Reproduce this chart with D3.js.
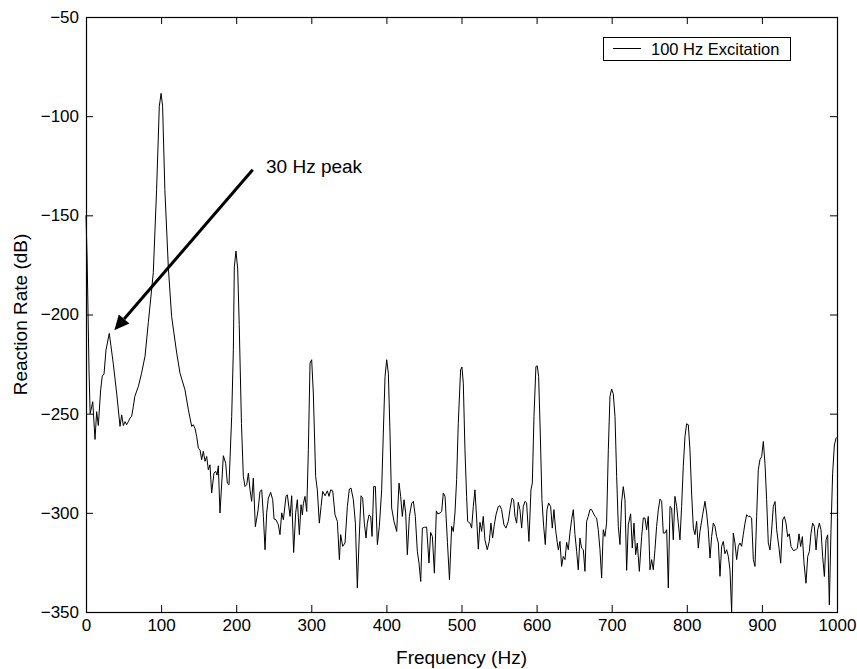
<!DOCTYPE html>
<html lang="en">
<head>
    <meta charset="UTF-8" />
    <title>Reaction Rate Spectrum - 100 Hz Excitation</title>

    <!-- D3.js library -->
    <script src="https://d3js.org/d3.v7.min.js"></script>

    <style>
        body {
            margin: 0;
            background-color: #fff;
            font-family: 'Liberation Sans', Arial, sans-serif;
        }

        .axis text {
            font-family: 'Liberation Sans', Arial, sans-serif;
            font-size: 17px;
            fill: #000;
        }

        .axis line {
            stroke: #000;
        }

        .axis-label {
            font-size: 19px;
            fill: #000;
        }

        .trace {
            fill: none;
            stroke: #000;
            stroke-width: 1px;
        }
    </style>
</head>

<body>
    <svg id="spectrum"></svg>

    <script>
        // Spectrum vertices (frequency in Hz, level in dB)
        const freqHz = [
            0, 1.5, 4, 5.5, 9, 12, 14.2, 16.4, 19.5, 21.7,
            24, 26.6, 31, 36.4, 40.8, 45.3, 47.5, 49.7, 52, 54,
            56.4, 58.6, 60.8, 63, 65, 69.7, 74, 78.6, 83, 89.6,
            94, 97.6, 100, 102, 105, 109.6, 114, 120.8, 125.2, 131.8,
            136.3, 140.7, 142.9, 145, 147.4, 149.6, 151.8, 154, 156.2, 158.5,
            160.7, 162.9, 165.1, 167.3, 170.4, 172.7, 174.5, 176.2, 178.4, 182.9,
            186, 188.2, 190.4, 194, 196.2, 197.5, 199.7, 202, 204, 207,
            209.5, 211.7, 214, 216.2, 218.4, 220.6, 222.8, 225.5, 229, 231.7,
            234, 236.2, 238.4, 240.6, 242.8, 245.9, 248.6, 250.4, 253, 256.1,
            258.3, 260.6, 262.8, 266.3, 268.1, 271.7, 273.9, 276.5, 279.2, 281.4,
            284.1, 286.3, 288.1, 289.4, 291.6, 293.9, 296.1, 298.3, 300.5, 302.7,
            305.8, 308, 310.7, 313, 315.2, 318.3, 321.4, 323.6, 325.8, 328.5,
            331.6, 334.7, 337.4, 339.1, 341.8, 344.9, 348, 350.7, 352.9, 356,
            358.7, 361.3, 363.5, 366.2, 368.4, 370.6, 372.9, 374.6, 376.9, 379.1,
            380.9, 383.1, 385.3, 388, 390.6, 393.7, 395.9, 398.2, 400.4, 402.6,
            404.8, 407, 410.1, 413.7, 416.8, 419, 421.2, 423.5, 425.7, 427.9,
            430.6, 433.7, 435.9, 438.5, 441.2, 443.4, 445.7, 447.9, 450.5, 453.6,
            456.7, 458.9, 461.2, 463.9, 466.5, 468.3, 471.4, 473.6, 475.8, 478.1,
            481.3, 484, 486.9, 489.1, 491.3, 493.5, 495.7, 498.8, 500.6, 502.4,
            504.6, 506.8, 508.2, 511.3, 513.5, 515.7, 517.9, 520.1, 522.4, 524.6,
            526.8, 529, 531.2, 534.3, 537, 539.2, 541.4, 543.7, 545.9, 549,
            551.2, 553.4, 556.5, 559.2, 562.3, 564.5, 567.2, 569.4, 571.2, 573.4,
            575.6, 577.8, 580.1, 582.3, 584.5, 586.7, 589.8, 592.5, 594.3, 596.5,
            599.1, 600.9, 602.7, 604.9, 607.1, 609.4, 611.6, 613.8, 616, 618.7,
            620.9, 623.1, 625.3, 627.6, 629, 631.1, 633.3, 635.5, 637.8, 640,
            642.2, 644.4, 646.6, 648.9, 651.1, 653.3, 655.5, 657.7, 659.9, 662.2,
            664.4, 666.6, 668.8, 671, 673.2, 675.5, 677.7, 679.9, 682.1, 684.4,
            686.6, 688.8, 691, 693.2, 695.5, 697.7, 699.9, 702.1, 704.4, 706.6,
            708.8, 711, 713.2, 715.4, 717.7, 719.9, 722.1, 725.2, 727.4, 729.7,
            731.9, 734.1, 736.8, 739.9, 742.1, 744.3, 746.5, 748.7, 751, 753.2,
            755.4, 757.6, 759.8, 762.1, 764.3, 766.5, 768.7, 770.9, 773.2, 775.4,
            777.6, 779.8, 782, 784.2, 786.5, 788.7, 790.9, 793.1, 795.3, 797.6,
            799.8, 802, 804.2, 806.4, 808.7, 810.9, 813.1, 815.3, 817.5, 821.1,
            824.2, 826.4, 828.6, 830.9, 833.1, 835.3, 837.5, 839.7, 842, 844.2,
            846.4, 848.6, 850.8, 853.1, 855.3, 857.5, 859.7, 861.9, 864.1, 866.4,
            868.6, 870.8, 873, 875.2, 877.5, 879.7, 881.9, 884.1, 886.3, 888.6,
            890.8, 893, 895.2, 897.4, 899.7, 901.9, 904.1, 906.3, 908.5, 910.8,
            913, 915.2, 917.5, 919.7, 922.8, 925, 927.7, 929.9, 932.1, 934.3,
            936.5, 938.8, 941.9, 945, 947.2, 949.4, 951.6, 953.9, 956.1, 958.7,
            961, 963.2, 965.4, 967.6, 969.8, 972.1, 974.3, 976.5, 978.7, 980.9,
            983.2, 985.4, 987.6, 989.8, 992, 994.2, 996.5, 998.7, 1000
        ];

        const levelDb = [
            -150, -172, -228, -250, -244, -263, -249, -256, -238, -231,
            -230, -218, -209.5, -225, -239.6, -256.4, -250.6, -256, -254, -255.6,
            -254, -252.2, -251.4, -246.4, -241.3, -236.3, -229.6, -221, -204, -179,
            -137, -95, -88.5, -95, -137, -176, -201, -219.5, -229.6, -238,
            -248, -256.4, -255.6, -257.3, -261.5, -267.4, -268.2, -273.2, -269, -274,
            -271.6, -278.3, -275.8, -290, -280, -279.1, -281, -276.3, -300.1, -271.2,
            -275, -285, -285.8, -251.4, -217.8, -176, -168, -177, -205, -255,
            -281.7, -286.7, -285.8, -280, -288.4, -294.2, -282.5, -307, -299, -289.2,
            -288.4, -301.8, -318.6, -300, -292.6, -289.7, -293.4, -303.1, -303.5, -306,
            -311, -300, -303.5, -291.7, -290.9, -301.8, -291.4, -320, -300, -293.4,
            -311, -295.9, -301, -295.4, -291.7, -299.3, -268.2, -224.5, -222.8, -239.6,
            -281.6, -288.4, -305.2, -296.8, -289.2, -291.4, -288.9, -291.7, -288.4, -288.9,
            -301, -304.3, -323.6, -311, -316.9, -315.2, -296.8, -288, -287.5, -293.4,
            -305.2, -337.9, -315.2, -291.4, -292.6, -305.2, -312.7, -305.2, -301, -301.8,
            -311.9, -286.7, -286.7, -316, -306.8, -288.4, -259.8, -231.2, -222.8, -229.6,
            -259.8, -297.6, -304.3, -309.4, -285, -291.7, -301.8, -293.4, -300.1, -321.1,
            -301.8, -295.1, -294.2, -301.8, -319.4, -325.3, -334.6, -307.7, -307.3, -307.2,
            -325.3, -309.9, -311.9, -330.4, -299, -300.5, -300.1, -299.3, -290, -291.7,
            -315, -333.7, -306.8, -309.4, -300.1, -283.3, -254.8, -227.9, -226.5, -234.6,
            -268.2, -291.7, -304.3, -305.2, -307.7, -296.8, -288.4, -302.6, -318.3, -304.8,
            -309.4, -301.8, -313.6, -318.6, -314.4, -305.2, -312.7, -306, -301, -296.8,
            -296.4, -298.4, -306, -307.7, -304.3, -298.4, -292.6, -293.4, -301.8, -305.2,
            -294.7, -298.4, -307.7, -296.8, -294.2, -295, -314.4, -288.4, -285, -251.4,
            -226.2, -225.9, -231.2, -259.8, -293.4, -306.8, -316, -298.4, -295.1, -296.8,
            -307.7, -298.4, -308.5, -315.2, -318.6, -314.4, -327, -322, -323.6, -314.9,
            -318.6, -310.2, -303.5, -298.4, -311, -319.4, -328.7, -312.7, -317.8, -318.6,
            -329.5, -304.3, -301.8, -298.4, -298.4, -300.1, -301.8, -302.6, -308.5, -318.6,
            -332.9, -308.5, -311.9, -305.2, -268.2, -241.3, -237.6, -240, -251.4, -281.6,
            -306.8, -316, -294.5, -286.8, -293.4, -329, -306, -300.5, -317.8, -305.2,
            -321.1, -315.2, -329.5, -311.9, -302.6, -302.6, -308.5, -301.8, -328.7, -323.6,
            -328.7, -318.6, -306.8, -298.4, -293.1, -294.2, -310.2, -310.2, -308.5, -337.9,
            -296.8, -297.6, -313.6, -291.7, -296.8, -305.2, -313.6, -296.8, -276.6, -261.5,
            -255.1, -255.6, -268.2, -290, -307.7, -311, -304.3, -317.8, -309.4, -301,
            -294.2, -300.1, -308.5, -322.8, -311.9, -305.2, -306.8, -311.9, -315.2, -332,
            -316.9, -314.4, -320.6, -318.6, -322, -328.7, -350, -310.2, -315.2, -323.6,
            -316.9, -315.2, -316.9, -311, -305.2, -301, -301.8, -301.8, -302.6, -323.6,
            -327, -301.8, -278.3, -273.2, -271.6, -264, -275, -293.4, -315.2, -318.7,
            -308.6, -296.8, -294.3, -308.6, -317.8, -325.4, -303.6, -301.9, -305.2, -312,
            -310.6, -317, -319, -318.7, -317.8, -310.6, -317, -312, -325.4, -335.5,
            -322, -319.5, -310.3, -305.2, -306.9, -318.7, -308.6, -305.2, -308.6, -322,
            -332.1, -313.6, -311.1, -346.4, -308.6, -280, -265.8, -262.4, -261.9
        ];

        // Axis ticks
        const xTicks = [0, 100, 200, 300, 400, 500, 600, 700, 800, 900, 1000];
        const yTicks = [-350, -300, -250, -200, -150, -100, -50];

        // Annotation (data coordinates)
        const arrowTail = [222, -127];
        const arrowTip = [37.7, -208];
        const noteText = "30 Hz peak";
        const notePos = [239.7, -128.8];
        const legendLabel = "100 Hz Excitation";

        // Set dimensions for the SVG canvas
        const margin = { top: 17, right: 20, bottom: 57, left: 86 };
        const width = 857 - margin.left - margin.right;
        const height = 669 - margin.top - margin.bottom;

        const svgRoot = d3.select("#spectrum")
            .attr("width", width + margin.left + margin.right)
            .attr("height", height + margin.top + margin.bottom)
            .style("display", "block");

        const svg = svgRoot.append("g")
            .attr("transform", "translate(" + margin.left + "," + margin.top + ")");

        // Scales
        const xScale = d3.scaleLinear().domain([0, 1000]).range([0, width]);
        const yScale = d3.scaleLinear().domain([-350, -50]).range([height, 0]);

        // Axes with inward ticks on all four sides
        const tickLen = 7;
        svg.append("g")
            .attr("class", "axis")
            .attr("transform", "translate(0," + height + ")")
            .call(d3.axisBottom(xScale).tickValues(xTicks).tickFormat(d3.format("d"))
                .tickSizeInner(-tickLen).tickSizeOuter(0).tickPadding(7))
            .call(g => g.select(".domain").remove());

        svg.append("g")
            .attr("class", "axis")
            .call(d3.axisTop(xScale).tickValues(xTicks).tickSizeInner(-tickLen).tickSizeOuter(0).tickFormat(""))
            .call(g => g.select(".domain").remove());

        svg.append("g")
            .attr("class", "axis")
            .call(d3.axisLeft(yScale).tickValues(yTicks).tickSizeInner(-tickLen).tickSizeOuter(0).tickPadding(7))
            .call(g => g.select(".domain").remove());

        svg.append("g")
            .attr("class", "axis")
            .attr("transform", "translate(" + width + ",0)")
            .call(d3.axisRight(yScale).tickValues(yTicks).tickSizeInner(-tickLen).tickSizeOuter(0).tickFormat(""))
            .call(g => g.select(".domain").remove());

        // Plot frame
        svg.append("rect")
            .attr("x", 0.5)
            .attr("y", 0.5)
            .attr("width", width)
            .attr("height", height)
            .attr("fill", "none")
            .attr("stroke", "#000")
            .attr("stroke-width", 1.2);

        // Spectrum trace
        const points = freqHz.map((f, i) => [f, levelDb[i]]);
        const line = d3.line()
            .x(d => xScale(d[0]))
            .y(d => yScale(d[1]));

        svg.append("path")
            .datum(points)
            .attr("class", "trace")
            .attr("d", line);

        // Axis labels
        svg.append("text")
            .attr("class", "axis-label")
            .attr("x", width / 2)
            .attr("y", height + 52)
            .style("text-anchor", "middle")
            .text("Frequency (Hz)");

        svg.append("text")
            .attr("class", "axis-label")
            .attr("transform", "rotate(-90)")
            .attr("x", -height / 2)
            .attr("y", -59)
            .style("text-anchor", "middle")
            .text("Reaction Rate (dB)");

        // Legend box
        const legend = svg.append("g")
            .attr("transform", "translate(" + (width - 234) + ",20)");
        legend.append("rect")
            .attr("x", 0.5).attr("y", 0.5)
            .attr("width", 187).attr("height", 23)
            .attr("fill", "#fff")
            .attr("stroke", "#000");
        legend.append("line")
            .attr("x1", 10).attr("x2", 38)
            .attr("y1", 11.5).attr("y2", 11.5)
            .attr("stroke", "#000");
        legend.append("text")
            .attr("x", 48)
            .attr("y", 18)
            .style("font-size", "16.5px")
            .text(legendLabel);

        // Arrow annotation
        const tx = xScale(arrowTail[0]), ty = yScale(arrowTail[1]);
        const hx = xScale(arrowTip[0]), hy = yScale(arrowTip[1]);
        const ang = Math.atan2(hy - ty, hx - tx);
        const headLen = 15, headHalf = 7;
        const bx = hx - headLen * Math.cos(ang), by = hy - headLen * Math.sin(ang);

        svg.append("line")
            .attr("x1", tx).attr("y1", ty)
            .attr("x2", bx).attr("y2", by)
            .attr("stroke", "#000")
            .attr("stroke-width", 3);

        svg.append("path")
            .attr("d", d3.line()([
                [hx, hy],
                [bx + headHalf * Math.sin(ang), by - headHalf * Math.cos(ang)],
                [bx - headHalf * Math.sin(ang), by + headHalf * Math.cos(ang)]
            ]) + "Z")
            .attr("fill", "#000");

        svg.append("text")
            .attr("x", xScale(notePos[0]))
            .attr("y", yScale(notePos[1]))
            .style("font-size", "19px")
            .text(noteText);
    </script>
</body>
</html>
